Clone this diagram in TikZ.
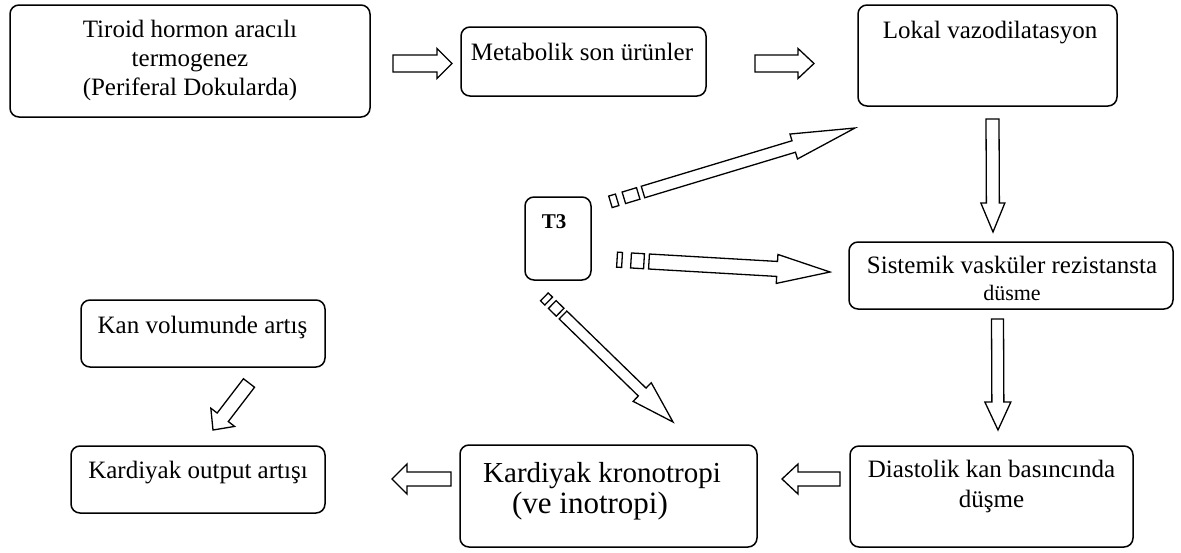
\documentclass[tikz,border=0pt]{standalone}
\usepackage{fontspec}
\setmainfont{Liberation Serif}
\usetikzlibrary{calc}
\tikzset{
  box/.style={draw, line width=1.5pt, rounded corners=9pt, inner sep=0pt, outer sep=0pt},
  lbl/.style={anchor=base, inner sep=0pt, font=\fontsize{25}{29}\selectfont},
  biglbl/.style={lbl, font=\fontsize{29}{33}\selectfont},
  smalllbl/.style={lbl, font=\fontsize{22}{26}\selectfont},
  tlbl/.style={lbl, font=\fontsize{21}{25}\selectfont\bfseries},
  arrowline/.style={draw, line width=1.3pt, line join=miter, fill=white},
}
% block arrow: tail, tip, half shaft, half head, head length
\newcommand\blockarrow[5]{%
  \coordinate (bab) at ($(#2)!#5!(#1)$);
  \draw[arrowline] ($(#1)!#3!90:(#2)$) -- ($(bab)!#3!90:(#2)$) -- ($(bab)!#4!90:(#2)$)
    -- (#2) -- ($(bab)!#4!-90:(#2)$) -- ($(bab)!#3!-90:(#2)$) -- ($(#1)!#3!-90:(#2)$) -- cycle;}
% stripe behind tail: tail, tip, from, to, half width
\newcommand\stripe[5]{%
  \coordinate (sta) at ($(#1)!#3!180:(#2)$);
  \coordinate (stb) at ($(#1)!#4!180:(#2)$);
  \draw[arrowline] ($(sta)!#5!90:(#2)$) -- ($(stb)!#5!90:(#2)$) -- ($(stb)!#5!-90:(#2)$) -- ($(sta)!#5!-90:(#2)$) -- cycle;}
% striped arrow: tail, tip, half shaft, half head, head length, d1, d2, d3, d4
\newcommand\stripedarrow[9]{%
  \blockarrow{#1}{#2}{#3}{#4}{#5}%
  \stripe{#1}{#2}{#6}{#7}{#3}%
  \stripe{#1}{#2}{#8}{#9}{#3}}
\begin{document}
\begin{tikzpicture}[x=1pt, y=-1pt]
\useasboundingbox (0,0) rectangle (1181,552);
% boxes
\node[box, minimum width=360pt, minimum height=112pt] (b1) at (190,61) {};
\node[box, minimum width=245pt, minimum height=69pt] (b2) at (583.5,61.5) {};
\node[box, minimum width=259pt, minimum height=101pt] (b3) at (987.5,55.5) {};
\node[box, minimum width=324pt, minimum height=67pt] (b4) at (1011,275.5) {};
\node[box, minimum width=283pt, minimum height=101pt] (b5) at (991.5,496.5) {};
\node[box, minimum width=297pt, minimum height=102pt] (b6) at (608.5,496) {};
\node[box, minimum width=254pt, minimum height=67pt] (b7) at (198,479.5) {};
\node[box, minimum width=244pt, minimum height=67pt] (b8) at (203,333.5) {};
\node[box, minimum width=66pt, minimum height=83pt] (t3) at (558,238.5) {};
% texts
\node[lbl] (b1t1) at (190,37) {Tiroid hormon aracılı};
\node[lbl] (b1t2) at (190,66) {termogenez};
\node[lbl] (b1t3) at (190,95) {(Periferal Dokularda)};
\node[lbl] (b2t) at (582,60) {Metabolik son ürünler};
\node[lbl] (b3t) at (990,38) {Lokal vazodilatasyon};
\node[lbl] (b4t1) at (1012,273) {Sistemik vasküler rezistansta};
\node[smalllbl] (b4t2) at (1012,300) {düsme};
\node[lbl] (b5t1) at (991.5,477) {Diastolik kan basıncında};
\node[lbl] (b5t2) at (991.5,507) {düşme};
\node[biglbl] (b6t1) at (602,482) {Kardiyak kronotropi};
\node[biglbl, font=\fontsize{31}{35}\selectfont] (b6t2) at (590,513) {(ve inotropi)};
\node[lbl] (b7t) at (198,478) {Kardiyak output artışı};
\node[lbl] (b8t) at (202.5,333) {Kan volumunde artış};
\node[tlbl] (t3t) at (554,228) {T3};
% arrow end points
\coordinate (a1s) at (393,63.5);  \coordinate (a1e) at (452,63.5);
\coordinate (a2s) at (755,63.5);  \coordinate (a2e) at (814,63.5);
\coordinate (a3s) at (992.5,119); \coordinate (a3e) at (993,232);
\coordinate (a4s) at (997.5,319); \coordinate (a4e) at (998,430);
\coordinate (a5s) at (840,479);   \coordinate (a5e) at (782,479);
\coordinate (a6s) at (451,479);   \coordinate (a6e) at (392,479);
\coordinate (a7s) at (249,383);   \coordinate (a7e) at (213,430);
\coordinate (tus) at (643,192);   \coordinate (tue) at (855,128);
\coordinate (tms) at (649,261.5); \coordinate (tme) at (830,272);
\coordinate (tls) at (563,315);   \coordinate (tle) at (673,422);
% arrows
\blockarrow{a1s}{a1e}{8.5pt}{15pt}{15pt}
\blockarrow{a2s}{a2e}{8.5pt}{15pt}{16pt}
\blockarrow{a3s}{a3e}{6.5pt}{12pt}{29pt}
\blockarrow{a4s}{a4e}{6pt}{13pt}{28pt}
\blockarrow{a5s}{a5e}{7pt}{15pt}{16pt}
\blockarrow{a6s}{a6e}{7pt}{15pt}{15pt}
\blockarrow{a7s}{a7e}{7pt}{15pt}{16pt}
\stripedarrow{tus}{tue}{6pt}{13pt}{64pt}{5pt}{20pt}{27pt}{34pt}
\stripedarrow{tms}{tme}{7.5pt}{14.5pt}{53pt}{5pt}{18pt}{27pt}{32pt}
\stripedarrow{tls}{tle}{5.5pt}{13pt}{43pt}{4pt}{15pt}{20pt}{26pt}
\end{tikzpicture}
\end{document}
